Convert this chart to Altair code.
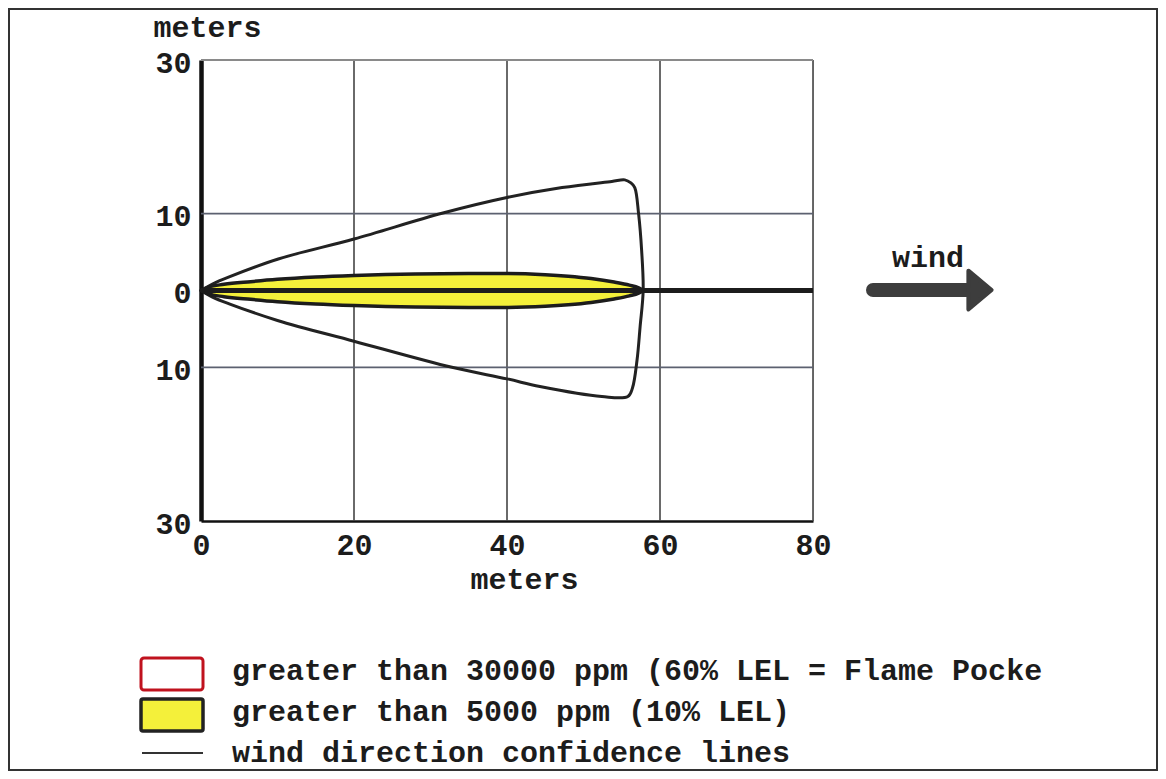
import altair as alt
import pandas as pd

# ---- data ----
x_ticks = [0, 20, 40, 60, 80]
y_ticks = [30, 10, 0, -10, -30]
x_grid = [20, 40, 60, 80]
y_grid = [10, -10]
top_border = [30]
axis_line_x = [0, 80]

# yellow plume (>5000 ppm) : downwind distance and half width (m)
plume_x = [0, 1, 3, 6.5, 10, 15, 20, 28, 35, 40, 45, 48, 51, 54, 56, 57.2, 57.8]
plume_half = [0, 0.45, 0.8, 1.15, 1.45, 1.75, 1.95, 2.15, 2.2, 2.2, 2.05, 1.85, 1.55, 1.1, 0.7, 0.35, 0]

# wind direction confidence lines (closed outline)
conf_x = [0, 1.5, 3.6, 10.1, 20, 31.5, 40, 47.2, 53.7, 55.4, 56.2, 56.7, 57.2, 57.6, 57.8,
          57.4, 57.0, 56.4, 55.8, 52.4, 44.3, 40, 32.8, 20, 10, 3.6, 1.5, 0]
conf_y = [0, 0.85, 1.75, 4.1, 6.7, 10.05, 12.1, 13.4, 14.2, 14.4, 14.0, 13.4, 10.0, 5.2, 0,
          -4.7, -9.05, -12.7, -13.8, -13.8, -12.5, -11.5, -10.0, -6.6, -3.9, -1.7, -0.85, 0]

legend_labels = [
    "greater than 30000 ppm (60% LEL = Flame Pocke",
    "greater than 5000 ppm (10% LEL)",
    "wind direction confidence lines",
]

FONT = "Liberation Mono"
FS = 30
YELLOW = "#f4f03a"
INK = "#1c1c1c"

xs = alt.Scale(domain=[0, 80], nice=False, zero=False)
ys = alt.Scale(domain=[-30, 30], nice=False, zero=False)

XAX = alt.Axis(
    values=x_ticks, grid=False, ticks=False, domainColor="#111", domainWidth=2.5,
    labelFont=FONT, labelFontSize=FS, labelFontWeight="bold", labelColor=INK,
    labelPadding=9, labelFlush=False, labelOverlap=False,
    title="meters", titleFont=FONT, titleFontSize=FS, titleFontWeight="bold",
    titleColor=INK, titleX=323, titleY=58, titleBaseline="middle", titleAlign="center")
YAX = alt.Axis(
    values=y_ticks, labelExpr="abs(datum.value)", grid=False, ticks=False,
    domainColor="#111", domainWidth=4.5,
    labelFont=FONT, labelFontSize=FS, labelFontWeight="bold", labelColor=INK,
    labelPadding=10, labelFlush=False, labelOverlap=False, labelBaseline="middle",
    labelOffset=3,
    title="meters", titleFont=FONT, titleFontSize=FS, titleFontWeight="bold",
    titleColor=INK, titleAngle=0, titleAlign="left", titleBaseline="middle",
    titleX=-48, titleY=-33)


def X(f):
    return alt.X(f, scale=xs, axis=XAX)


def Y(f):
    return alt.Y(f, scale=ys, axis=YAX)


one = pd.DataFrame({"k": [0]})

vgrid = alt.Chart(pd.DataFrame({"x": x_grid})).mark_rule(color="#454545", strokeWidth=1.6).encode(
    x=X("x:Q"))

hgrid = alt.Chart(pd.DataFrame({"y": y_grid})).mark_rule(color="#5c6170", strokeWidth=1.6).encode(
    y=Y("y:Q"))

topb = alt.Chart(pd.DataFrame({"y": top_border})).mark_rule(color="#8a8a8a", strokeWidth=2).encode(
    y=Y("y:Q"))

conf_df = pd.DataFrame({"x": conf_x, "y": conf_y, "i": list(range(len(conf_x)))})
conf = alt.Chart(conf_df).mark_line(color="#222", strokeWidth=3, strokeJoin="round",
                                    interpolate="catmull-rom").encode(
    x=X("x:Q"), y=Y("y:Q"), order="i:Q")

plume_df = pd.DataFrame({"x": plume_x, "top": plume_half, "bot": [-h for h in plume_half]})
plume = alt.Chart(plume_df).mark_area(fill=YELLOW, stroke=INK, strokeWidth=3.5,
                                      strokeJoin="round", interpolate="monotone").encode(
    x=X("x:Q"), y=Y("top:Q"), y2="bot:Q")

center_df = pd.DataFrame({"x": [axis_line_x[0]], "x2": [axis_line_x[1]], "y": [0]})
center = alt.Chart(center_df).mark_rule(color=INK, strokeWidth=5).encode(
    x=X("x:Q"), x2="x2:Q", y=Y("y:Q"))

# wind arrow
shaft = alt.Chart(one).mark_rule(color="#3d3d3d", strokeWidth=14, strokeCap="round").encode(
    x=alt.value(672), x2=alt.value(768), y=alt.value(230))
head = alt.Chart(one).mark_point(shape="M-0.6,-1L0.6,0L-0.6,1Z", filled=True, size=1500,
                                 color="#3d3d3d", stroke="#3d3d3d", strokeWidth=4,
                                 strokeJoin="round", opacity=1).encode(
    x=alt.value(779), y=alt.value(230))
wind_txt = alt.Chart(one).mark_text(text="wind", font=FONT, fontSize=FS, fontWeight="bold",
                                    color=INK, align="center", baseline="middle").encode(
    x=alt.value(727), y=alt.value(198))

# legend
box1 = alt.Chart(one).mark_rect(fill="white", stroke="#c0121e", strokeWidth=3, cornerRadius=3).encode(
    x=alt.value(-60), x2=alt.value(2), y=alt.value(598), y2=alt.value(630))
box2 = alt.Chart(one).mark_rect(fill=YELLOW, stroke="#222", strokeWidth=3.5, cornerRadius=2).encode(
    x=alt.value(-60), x2=alt.value(2), y=alt.value(639), y2=alt.value(671))
lline = alt.Chart(one).mark_rule(color="#333", strokeWidth=2).encode(
    x=alt.value(-59), x2=alt.value(2), y=alt.value(693))
leg_txt = []
for i, lab in enumerate(legend_labels):
    leg_txt.append(alt.Chart(one).mark_text(text=lab, font=FONT, fontSize=FS, fontWeight="bold",
                                            color=INK, align="left", baseline="middle").encode(
        x=alt.value(31), y=alt.value(611 + 41 * i)))

frame = alt.Chart(one).mark_rect(fill=None, fillOpacity=0, stroke="#333", strokeWidth=2).encode(
    x=alt.value(-192), x2=alt.value(956), y=alt.value(-51), y2=alt.value(710))

chart = alt.layer(
    frame, vgrid, hgrid, topb, conf, plume, center, shaft, head, wind_txt,
    box1, box2, lline, *leg_txt
).properties(
    width=612, height=461,
    autosize=alt.AutoSizeParams(type="none"),
    padding={"left": 193, "top": 52, "right": 345, "bottom": 250},
).configure_view(stroke=None).configure(background="white")

chart.save("out.html", embed_options={"renderer": "svg", "actions": False})
